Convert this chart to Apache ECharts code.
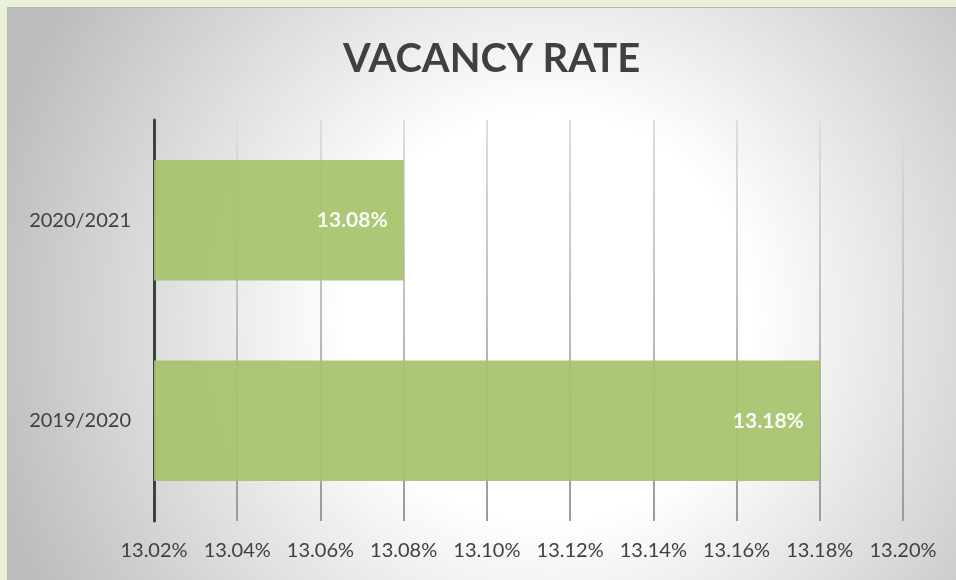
<!DOCTYPE html>
<html>
<head>
<meta charset="utf-8">
<script src="https://cdn.jsdelivr.net/npm/echarts@6/dist/echarts.min.js"></script>
<style>
    html, body { margin: 0; padding: 0; background: #e9f1dc; }
    #main { position: absolute; left: 7px; top: 7px; width: 949px; height: 573px; border-top: 1px solid #b8b8b8; border-left: 1px solid #b8b8b8; box-sizing: border-box; }
</style>
</head>
<body>
<div id="main"></div>
<script>
// 数据
let categories = ['2019/2020', '2020/2021'];
let vacancyRate = [13.18, 13.08];
let axisMin = 13.02;
let axisMax = 13.20;
let axisStep = 0.02;

let myChart = echarts.init(document.getElementById('main'));
let pctLabel = (v) => Number(v).toFixed(2) + '%';

let option = {
    backgroundColor: new echarts.graphic.RadialGradient(540, 310, 580, [
        { offset: 0, color: '#ffffff' },
        { offset: 0.35, color: '#ffffff' },
        { offset: 1, color: '#bcbcbc' }
    ], true),
    title: {
        text: 'VACANCY RATE',
        left: 330,
        top: 26,
        textStyle: {
            fontFamily: 'Lato',
            fontWeight: 'bold',
            fontSize: 40,
            color: '#404040'
        }
    },
    grid: {
        left: 146,
        top: 112,
        width: 749,
        height: 401,
        containLabel: false
    },
    xAxis: {
        type: 'value',
        min: axisMin,
        max: axisMax,
        interval: axisStep,
        axisLine: { show: false },
        axisTick: { show: false },
        axisLabel: {
            margin: 20,
            fontFamily: 'Lato',
            fontSize: 20,
            color: '#404040',
            formatter: pctLabel
        },
        splitLine: {
            show: true,
            lineStyle: {
                width: 2,
                color: new echarts.graphic.LinearGradient(0, 112, 0, 513, [
                    { offset: 0, color: '#dedede' },
                    { offset: 1, color: '#9a9a9a' }
                ], true)
            }
        }
    },
    yAxis: {
        type: 'category',
        data: categories,
        axisLine: {
            show: true,
            lineStyle: { color: '#404040', width: 3 }
        },
        axisTick: { show: false },
        axisLabel: {
            margin: 23,
            fontFamily: 'Lato',
            fontSize: 20,
            color: '#404040'
        }
    },
    series: [{
        name: 'Vacancy rate',
        type: 'bar',
        data: vacancyRate,
        barCategoryGap: '40%',
        itemStyle: {
            color: '#a6c36a',
            opacity: 0.93
        },
        label: {
            show: true,
            position: 'insideRight',
            distance: 16,
            fontFamily: 'Lato',
            fontWeight: 'bold',
            fontSize: 21,
            color: '#ffffff',
            formatter: (p) => pctLabel(p.value)
        }
    }]
};
myChart.setOption(option);
</script>
</body>
</html>
